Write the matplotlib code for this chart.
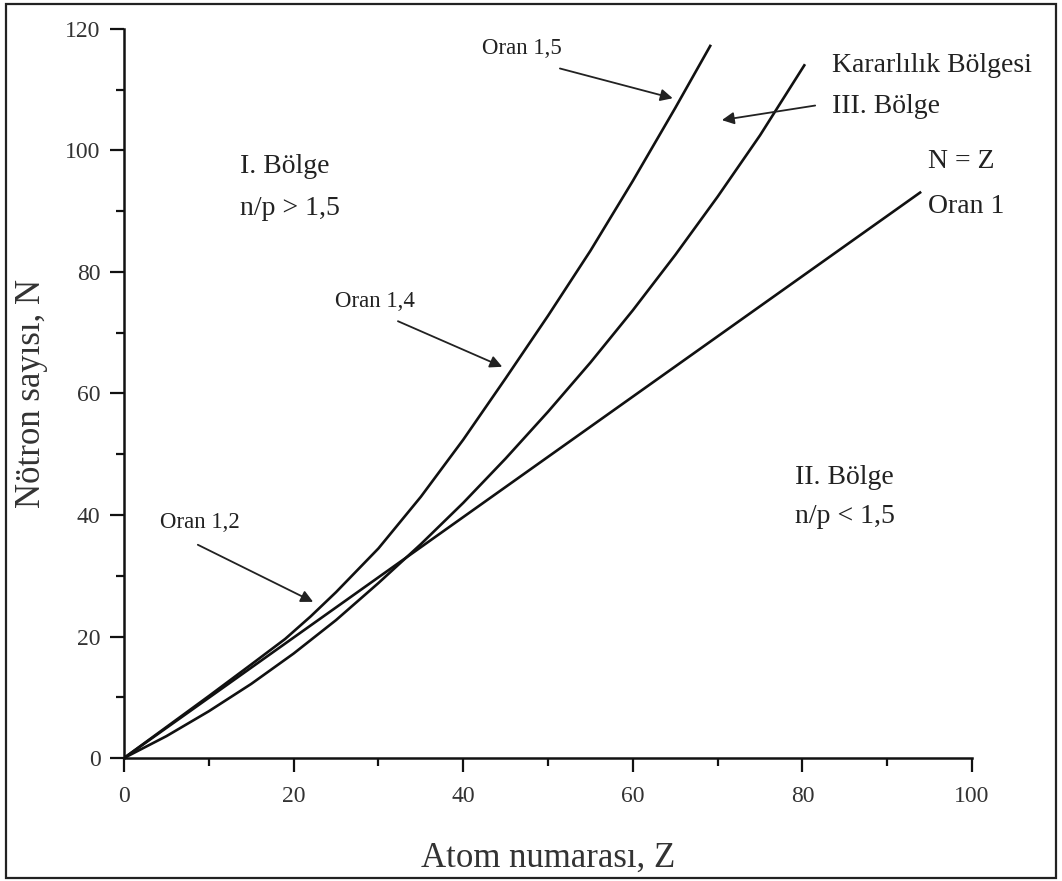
import matplotlib
matplotlib.use("Agg")
import matplotlib.pyplot as plt
from matplotlib.patches import Rectangle
from matplotlib.ticker import MultipleLocator

# ---- data ----
z_oran15 = [0, 5, 10, 15, 19, 22, 25, 30, 35, 40, 45, 50, 55, 60, 65, 69.2]
n_oran15 = [0, 5.1, 10.2, 15.4, 19.6, 23.3, 27.3, 34.5, 43.0, 52.4, 62.5, 72.8, 83.5, 95.0, 107.0, 117.4]

z_stab = [0, 5, 10, 15, 20, 25, 30, 35, 40, 45, 50, 55, 60, 65, 70, 75, 80.3]
n_stab = [0, 3.6, 7.7, 12.2, 17.2, 22.7, 28.8, 35.2, 42.0, 49.3, 57.0, 65.1, 73.7, 82.8, 92.4, 102.5, 114.2]

z_nz = [0, 94]
n_nz = [0, 93.2]

x_ticks = [0, 20, 40, 60, 80, 100]
y_ticks = [0, 20, 40, 60, 80, 100, 120]

# ---- figure ----
plt.rcParams['font.family'] = ['Liberation Serif', 'DejaVu Serif']
fig = plt.figure(figsize=(10.62, 8.81), dpi=100)
ax = fig.add_axes([0.1168, 0.1396, 0.7985, 0.8275])

lc = '#111111'
ax.plot(z_oran15, n_oran15, color=lc, lw=1.9, solid_capstyle='butt', solid_joinstyle='round')
ax.plot(z_stab, n_stab, color=lc, lw=1.9, solid_capstyle='butt', solid_joinstyle='round')
ax.plot(z_nz, n_nz, color=lc, lw=1.9, solid_capstyle='butt')

ax.set_xlim(0, 100)
ax.set_ylim(0, 120)
ax.set_xticks(x_ticks)
ax.set_yticks(y_ticks)
ax.xaxis.set_minor_locator(MultipleLocator(10))
ax.yaxis.set_minor_locator(MultipleLocator(10))
for s in ['top', 'right']:
    ax.spines[s].set_visible(False)
for s in ['left', 'bottom']:
    ax.spines[s].set_linewidth(1.8)
    ax.spines[s].set_color('#111111')
ax.tick_params(which='major', direction='out', length=10, width=1.6, labelsize=17,
               pad=7, colors='#111111', labelcolor='#333333')
ax.tick_params(axis='x', which='major', pad=10)
ax.tick_params(which='minor', direction='out', length=6, width=1.6, colors='#111111')

ax.set_xlabel('Atom numarası, Z', fontsize=25, color='#333333', labelpad=25)
ax.set_ylabel('Nötron sayısı, N', fontsize=25, color='#333333', labelpad=12)

tc = '#222222'
fs_reg = 20
fs_oran = 16.5
ap = dict(arrowstyle='-|>', lw=1.3, color='#222222', mutation_scale=18,
          shrinkA=0, shrinkB=0)

ax.text(13.7, 97.4, 'I. Bölge', fontsize=fs_reg, color=tc, va='center', ha='left')
ax.text(13.7, 90.4, 'n/p > 1,5', fontsize=fs_reg, color=tc, va='center', ha='left')
ax.text(79.1, 46.2, 'II. Bölge', fontsize=fs_reg, color=tc, va='center', ha='left')
ax.text(79.1, 39.8, 'n/p < 1,5', fontsize=fs_reg, color=tc, va='center', ha='left')
ax.text(83.5, 114.0, 'Kararlılık Bölgesi', fontsize=fs_reg, color=tc, va='center', ha='left')
ax.text(83.5, 107.3, 'III. Bölge', fontsize=fs_reg, color=tc, va='center', ha='left')
ax.text(94.8, 98.2, 'N = Z', fontsize=fs_reg, color=tc, va='center', ha='left', clip_on=False)
ax.text(94.8, 90.8, 'Oran 1', fontsize=fs_reg, color=tc, va='center', ha='left', clip_on=False)

ax.text(42.2, 116.8, 'Oran 1,5', fontsize=fs_oran, color=tc, va='center', ha='left')
ax.text(24.9, 75.2, 'Oran 1,4', fontsize=fs_oran, color=tc, va='center', ha='left')
ax.text(4.2, 38.8, 'Oran 1,2', fontsize=fs_oran, color=tc, va='center', ha='left')

ax.annotate('', xy=(64.7, 108.6), xytext=(51.4, 113.5), arrowprops=ap)
ax.annotate('', xy=(70.5, 105.0), xytext=(81.5, 107.4), arrowprops=ap)
ax.annotate('', xy=(44.6, 64.4), xytext=(32.3, 71.9), arrowprops=ap)
ax.annotate('', xy=(22.3, 25.7), xytext=(8.7, 35.1), arrowprops=ap)

# outer frame
fig.patches.append(Rectangle((0.006, 0.003), 0.988, 0.993, transform=fig.transFigure,
                             fill=False, lw=1.6, edgecolor='#222222'))

fig.savefig('out.png', dpi=100)
